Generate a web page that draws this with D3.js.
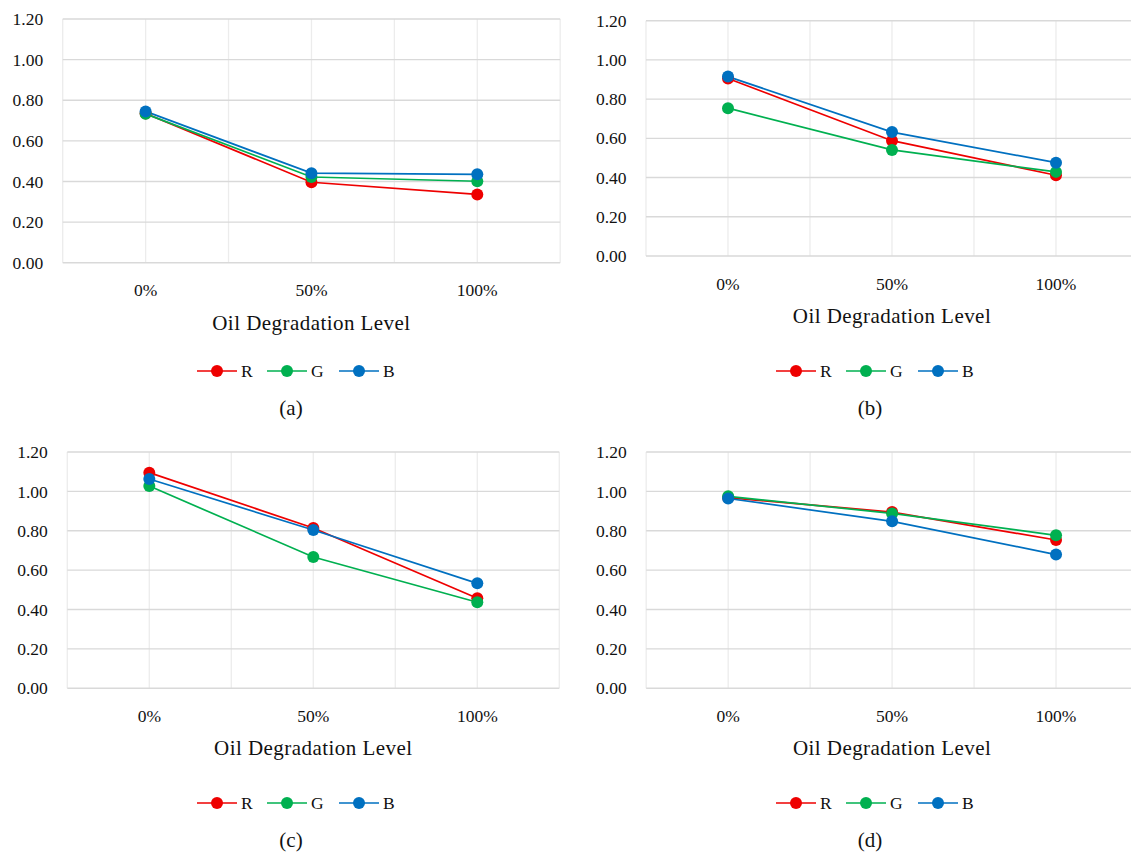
<!DOCTYPE html>
<html>
<head>
<meta charset="utf-8">
<script src="https://cdn.jsdelivr.net/npm/d3@7/dist/d3.min.js"></script>
<style>
  html, body { margin: 0; padding: 0; background: #fff; }
  svg { display: block; }
  text { font-family: "Liberation Serif", serif; fill: #111; }
</style>
</head>
<body>
<svg id="chart" width="1131" height="852"></svg>
<script>
// ---- data ----
const categories = ["0%", "50%", "100%"];
const yTicks = [0, 0.2, 0.4, 0.6, 0.8, 1.0, 1.2];
const seriesNames = ["R", "G", "B"];
const seriesColors = ["#EE0000", "#00B050", "#0070C0"];
const panelLabels = ["(a)", "(b)", "(c)", "(d)"];
const xTitle = "Oil Degradation Level";

const aR = [0.735, 0.396, 0.336];
const aG = [0.733, 0.422, 0.401];
const aB = [0.745, 0.441, 0.435];

const bR = [0.905, 0.588, 0.412];
const bG = [0.754, 0.541, 0.429];
const bB = [0.915, 0.632, 0.476];

const cR = [1.095, 0.814, 0.457];
const cG = [1.027, 0.667, 0.437];
const cB = [1.063, 0.804, 0.533];

const dR = [0.968, 0.895, 0.753];
const dG = [0.975, 0.888, 0.777];
const dB = [0.964, 0.848, 0.679];

const panelData = [[aR, aG, aB], [bR, bG, bB], [cR, cG, cB], [dR, dG, dB]];

// ---- layout (panel frames) ----
const frames = [
  { left: 62.7, right: 560.2, top: 19.0, bottom: 262.7, legendY: 371, captionY: 408, legendX: 197, captionX: 291 },
  { left: 646.0, right: 1138, top: 20.7, bottom: 256.0, legendY: 371, captionY: 408, legendX: 776, captionX: 870 },
  { left: 67.3, right: 559.3, top: 452.0, bottom: 688.3, legendY: 803, captionY: 840, legendX: 197, captionX: 291 },
  { left: 646.2, right: 1138, top: 452.0, bottom: 688.3, legendY: 803, captionY: 840, legendX: 776, captionX: 870 }
];

const svg = d3.select("#chart");
const FONT = "'Liberation Serif', serif";

frames.forEach((f, pi) => {
  const g = svg.append("g").style("font-family", FONT);
  const x = d3.scalePoint().domain(categories).range([f.left, f.right]).padding(0.5);
  const y = d3.scaleLinear().domain([0, 1.2]).range([f.bottom, f.top]);
  const step = x.step();

  // vertical gridlines at band centers and boundaries
  const vlines = d3.range(0, categories.length * 2 + 1).map(k => f.left + k * step / 2);
  g.selectAll("line.v").data(vlines).enter().append("line")
    .attr("x1", d => d).attr("x2", d => d)
    .attr("y1", f.top).attr("y2", f.bottom)
    .attr("stroke", "#ECECEC").attr("stroke-width", 1.3);

  // horizontal gridlines
  g.selectAll("line.h").data(yTicks).enter().append("line")
    .attr("x1", f.left).attr("x2", f.right)
    .attr("y1", d => y(d)).attr("y2", d => y(d))
    .attr("stroke", "#D9D9D9").attr("stroke-width", 1.4);

  // y tick labels
  g.selectAll("text.yt").data(yTicks).enter().append("text")
    .attr("x", f.left - 19.5).attr("y", d => y(d)).attr("dy", "0.35em")
    .attr("text-anchor", "end")
    .style("font-family", FONT).style("font-size", "17.5px")
    .text(d => d3.format(".2f")(d));

  // x tick labels
  g.selectAll("text.xt").data(categories).enter().append("text")
    .attr("x", d => x(d)).attr("y", f.bottom + 27.5).attr("dy", "0.35em")
    .attr("text-anchor", "middle")
    .style("font-family", FONT).style("font-size", "17.5px")
    .text(d => d);

  // x axis title
  g.append("text")
    .attr("x", f.left + 1.5 * step).attr("y", f.bottom + 59.5).attr("dy", "0.35em")
    .attr("text-anchor", "middle")
    .style("font-family", FONT).style("font-size", "21px").style("letter-spacing", "0.45px")
    .text(xTitle);

  // series
  const line = d3.line().x((d, i) => x(categories[i])).y(d => y(d));
  panelData[pi].forEach((vals, si) => {
    g.append("path").datum(vals)
      .attr("d", line).attr("fill", "none")
      .attr("stroke", seriesColors[si]).attr("stroke-width", 1.7);
  });
  panelData[pi].forEach((vals, si) => {
    g.selectAll(null).data(vals).enter().append("circle")
      .attr("cx", (d, i) => x(categories[i])).attr("cy", d => y(d))
      .attr("r", 6).attr("fill", seriesColors[si]);
  });

  // legend
  const lg = g.append("g").attr("transform", `translate(${f.legendX},${f.legendY})`);
  const itemStarts = [0, 70, 142];
  seriesNames.forEach((name, si) => {
    const it = lg.append("g").attr("transform", `translate(${itemStarts[si]},0)`);
    it.append("line").attr("x1", 0).attr("x2", 40).attr("y1", 0).attr("y2", 0)
      .attr("stroke", seriesColors[si]).attr("stroke-width", 1.7);
    it.append("circle").attr("cx", 20).attr("cy", 0).attr("r", 6).attr("fill", seriesColors[si]);
    it.append("text").attr("x", 44).attr("y", 0).attr("dy", "0.35em")
      .style("font-family", FONT).style("font-size", "17.5px").text(name);
  });

  // caption
  g.append("text").attr("x", f.captionX).attr("y", f.captionY).attr("dy", "0.35em")
    .attr("text-anchor", "middle")
    .style("font-family", FONT).style("font-size", "21px")
    .text(panelLabels[pi]);
});
</script>
</body>
</html>
